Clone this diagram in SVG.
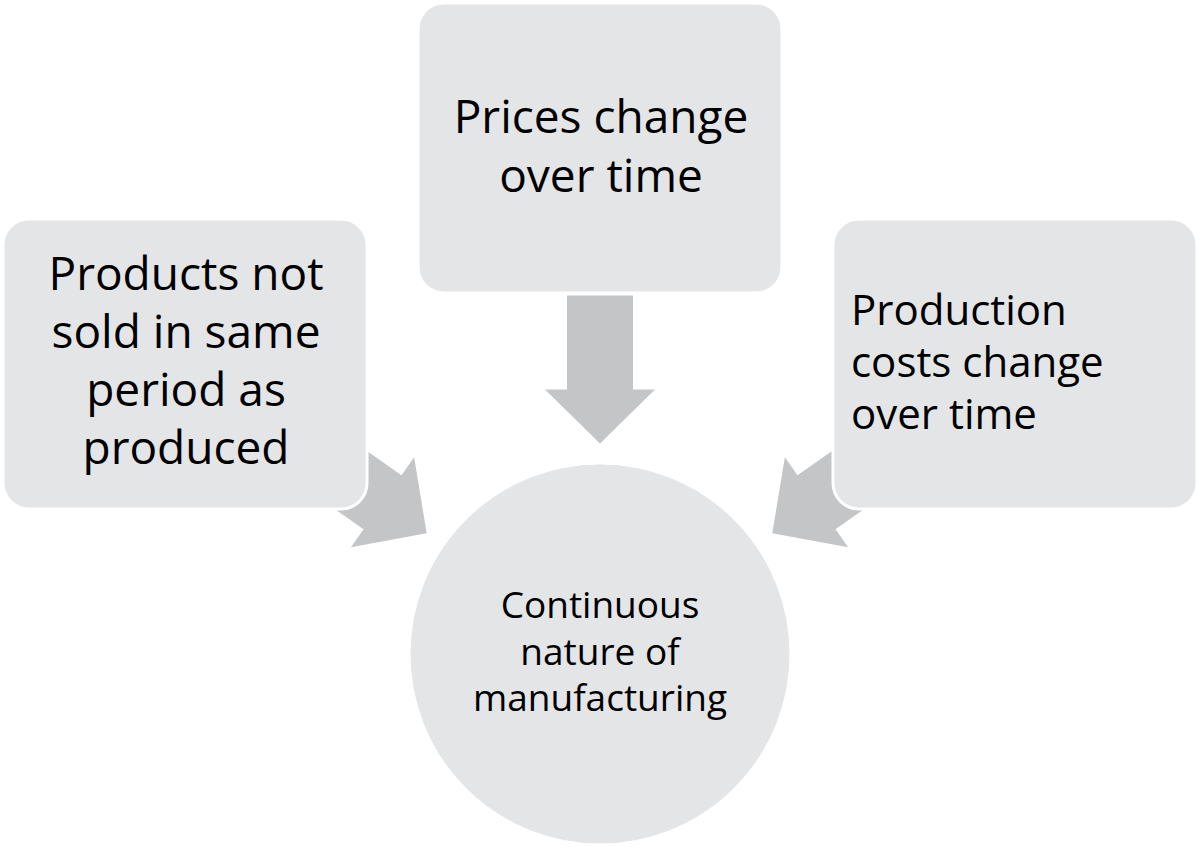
<svg xmlns="http://www.w3.org/2000/svg" width="1200" height="849" viewBox="0 0 1200 849">
<style>
.box{fill:#e4e5e6;stroke:#ffffff;stroke-width:3}
.arr{fill:#c4c5c7}
text{font-family:"Open Sans","Noto Sans",sans-serif;fill:#000}
.c{text-anchor:middle}
</style>
<defs>
<path id="arrow" d="M-33,-148 L33,-148 L33,-54 L55,-54 L0,0 L-55,-54 L-33,-54 Z"/>
</defs>
<rect width="1200" height="849" fill="#ffffff"/>
<g id="connectors">
<use href="#arrow" class="arr" transform="translate(600,443.5)"/>
<use href="#arrow" class="arr" transform="translate(426.7,533.3) rotate(-54.9)"/>
<use href="#arrow" class="arr" transform="translate(772.3,533.3) rotate(54.9)"/>
</g>
<g id="node-left">
<rect class="box" x="3" y="219" width="364" height="290" rx="26"/>
<text class="c" font-size="46"><tspan x="186" y="290">Products not</tspan><tspan x="186" y="348">sold in same</tspan><tspan x="186" y="406">period as</tspan><tspan x="186" y="464">produced</tspan></text>
</g>
<g id="node-top">
<rect class="box" x="418" y="3" width="364" height="290" rx="26"/>
<text class="c" font-size="46"><tspan x="601" y="133">Prices change</tspan><tspan x="601" y="192">over time</tspan></text>
</g>
<g id="node-right">
<rect class="box" x="833" y="219" width="364" height="290" rx="26"/>
<text font-size="42"><tspan x="851" y="325">Production</tspan><tspan x="851" y="377">costs change</tspan><tspan x="851" y="429">over time</tspan></text>
</g>
<g id="node-center">
<circle class="box" cx="600" cy="654" r="191"/>
<text class="c" font-size="37"><tspan x="600" y="618">Continuous</tspan><tspan x="600" y="665">nature of</tspan><tspan x="600" y="711">manufacturing</tspan></text>
</g>
</svg>
